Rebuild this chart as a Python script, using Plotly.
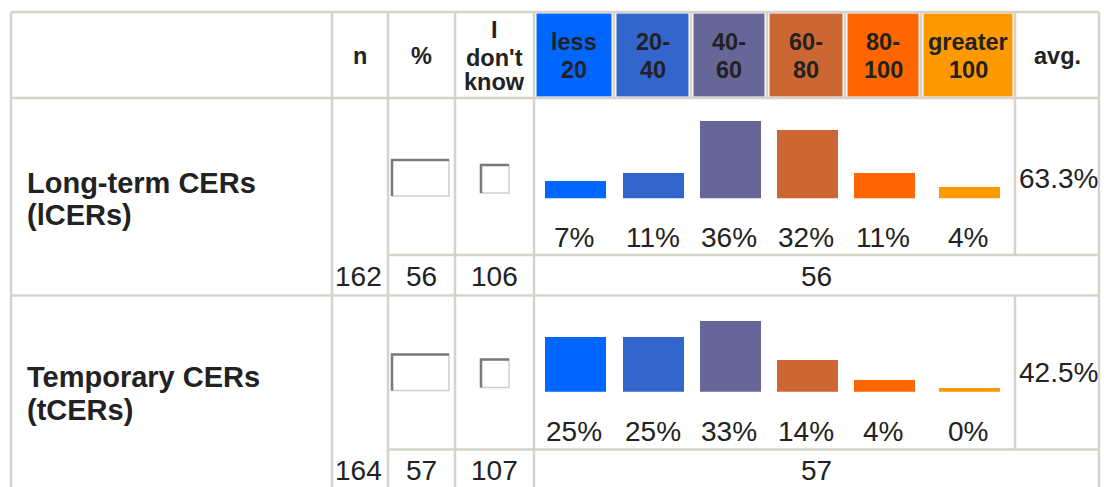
import plotly.graph_objects as go

# ---------------- data ----------------
bin_labels = ["less 20", "20-40", "40-60", "60-80", "80-100", "greater 100"]
bin_header_lines = [["less", "20"], ["20-", "40"], ["40-", "60"], ["60-", "80"],
                    ["80-", "100"], ["greater", "100"]]
bin_colors = ["#0066ff", "#3366cc", "#666699", "#cc6633", "#ff6600", "#ff9900"]

item_names = ["Long-term CERs", "Temporary CERs"]
item_abbr = ["(lCERs)", "(tCERs)"]
n_total = [162, 164]
n_answered = [56, 57]
n_dont_know = [106, 107]
share_lcer = [7, 11, 36, 32, 11, 4]
share_tcer = [25, 25, 33, 14, 4, 0]
shares = [share_lcer, share_tcer]
averages = [63.3, 42.5]

# ---------------- table geometry (pixels) ----------------
W, H = 1104, 487
FONT = "Arial, Liberation Sans, sans-serif"
GRID = "#d6d3cd"
TEXT = "#222222"

COL = [11, 332, 388, 455, 534, 614, 691, 767, 845, 921, 1015, 1099]
TOP, HEAD_BOT = 12, 98
ROW_TOP = [98, 295.5]
COUNT_TOP = [255, 449.5]
ROW_SHIFT = [0, 194.5]          # vertical offset of row contents
BASELINE = [198.3, 391.7]       # bottom of the bar strip in each row
PX_PER_PCT = 2.05
STUB = 1.7                      # bars start slightly below zero
Y_MAX = 45


def px(x):
    return x / W


def py(y):
    return 1 - y / H


fig = go.Figure()
shapes = []
annotations = []


def hline(y, x0, x1):
    shapes.append(dict(type="line", xref="paper", yref="paper", x0=px(x0), x1=px(x1),
                       y0=py(y), y1=py(y), line=dict(color=GRID, width=2.5), layer="below"))


def vline(x, y0, y1):
    shapes.append(dict(type="line", xref="paper", yref="paper", x0=px(x), x1=px(x),
                       y0=py(y0), y1=py(y1), line=dict(color=GRID, width=2.5), layer="below"))


def rect(x0, y0, x1, y1, fill, line_color=None, lw=0):
    shapes.append(dict(type="rect", xref="paper", yref="paper", x0=px(x0), x1=px(x1),
                       y0=py(y1), y1=py(y0), fillcolor=fill,
                       line=dict(color=line_color or fill, width=lw), layer="below"))


def text(x, y, s, size, bold=False, xanchor="center"):
    annotations.append(dict(x=px(x), y=py(y), xref="paper", yref="paper", text=s,
                            showarrow=False, xanchor=xanchor, yanchor="middle",
                            font=dict(family=FONT, size=size, color=TEXT,
                                      weight="bold" if bold else "normal")))


# header colour cells
for i, c in enumerate(bin_colors):
    rect(COL[4 + i] + 2.5, TOP + 1.5, COL[5 + i] - 2.5, HEAD_BOT - 1.5, c)

# grid lines
hline(TOP, COL[0], COL[-1])
hline(HEAD_BOT, COL[0], COL[-1])
for r in range(2):
    hline(COUNT_TOP[r], COL[2], COL[-1])
hline(ROW_TOP[1], COL[0], COL[-1])
for x in [COL[0], COL[1], COL[2], COL[3], COL[4], COL[-1]]:
    vline(x, TOP, H + 5)
for x in COL[5:10]:
    vline(x, TOP, HEAD_BOT)
vline(COL[10], TOP, COUNT_TOP[0])
vline(COL[10], ROW_TOP[1], COUNT_TOP[1])

# header text
text((COL[1] + COL[2]) / 2, 55.5, "n", 23.5, bold=True)
text((COL[2] + COL[3]) / 2, 55.5, "%", 23.5, bold=True)
idk_x = (COL[3] + COL[4]) / 2
for s, y in zip(["I", "don't", "know"], [30, 58.5, 82]):
    text(idk_x, y, s, 23.5, bold=True)
for i, lines in enumerate(bin_header_lines):
    cx = (COL[4 + i] + COL[5 + i]) / 2
    text(cx, 42, lines[0], 23.5, bold=True)
    text(cx, 70, lines[1], 23.5, bold=True)
text((COL[10] + COL[11]) / 2, 55.5, "avg.", 23.5, bold=True)

# body rows
centers = [(COL[4 + i] + COL[5 + i]) / 2 for i in range(6)]
for r in range(2):
    d = ROW_SHIFT[r]
    # row labels
    text(25, 182.5 + d, item_names[r], 29, bold=True, xanchor="left")
    text(25, 215 + d, item_abbr[r], 29, bold=True, xanchor="left")

    # input box in the % column and checkbox in the "don't know" column
    for (x0, y0, x1, y1) in [(392, 160, 449, 196), (481, 165, 509, 193)]:
        rect(x0, y0 + d, x1, y1 + d, "white", "#cfcfcf", 1.5)
        shapes.append(dict(type="path", xref="paper", yref="paper",
                           path=f"M {px(x0)},{py(y1 + d)} L {px(x0)},{py(y0 + d)} L {px(x1)},{py(y0 + d)}",
                           line=dict(color="#7a7a7a", width=2.5), layer="above"))

    # percentage labels under the bars
    for i, v in enumerate(shares[r]):
        text(centers[i], 237.3 + d, f"{v}%", 28)

    # average
    text(1017, 178 + d, f"{averages[r]}%", 28, xanchor="left")

    # counts row
    cy = 276.3 + d
    text(384, cy, str(n_total[r]), 28, xanchor="right")
    text((COL[2] + COL[3]) / 2, cy, str(n_answered[r]), 28)
    text((COL[3] + COL[4]) / 2, cy, str(n_dont_know[r]), 28)
    text((COL[4] + COL[11]) / 2, cy, str(n_answered[r]), 28)

# bars, one small subplot per row
for r in range(2):
    xa = "x" if r == 0 else "x2"
    ya = "y" if r == 0 else "y2"
    fig.add_trace(go.Bar(
        x=[c + 1 for c in centers], y=[v + STUB for v in shares[r]], base=[-STUB] * 6,
        width=61, marker=dict(color=bin_colors, line=dict(width=0)),
        xaxis=xa, yaxis=ya, hoverinfo="skip", showlegend=False,
        customdata=bin_labels,
    ))

axis_common = dict(visible=False, fixedrange=True, showgrid=False, zeroline=False)
layout_axes = {}
for r in range(2):
    sfx = "" if r == 0 else "2"
    bottom = BASELINE[r]
    top = bottom - (Y_MAX + STUB) * PX_PER_PCT
    layout_axes["xaxis" + sfx] = dict(axis_common, range=[COL[4], COL[10]],
                                      domain=[px(COL[4]), px(COL[10])],
                                      **({} if r == 0 else {"anchor": "y2"}))
    layout_axes["yaxis" + sfx] = dict(axis_common, range=[-STUB, Y_MAX],
                                      domain=[py(bottom), py(top)],
                                      **({} if r == 0 else {"anchor": "x2"}))

fig.update_layout(
    width=W, height=H, margin=dict(l=0, r=0, t=0, b=0),
    paper_bgcolor="white", plot_bgcolor="rgba(0,0,0,0)",
    shapes=shapes, annotations=annotations, bargap=0,
    **layout_axes,
)

fig.write_html("out.html", config={"displayModeBar": False})
